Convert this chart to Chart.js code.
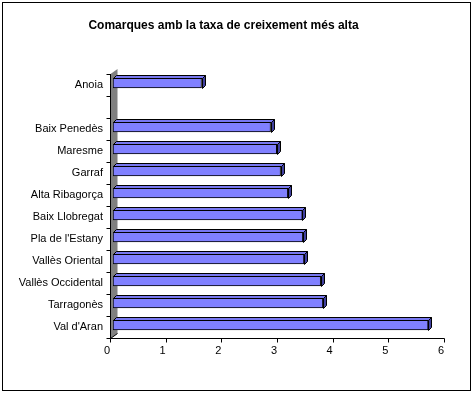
<!DOCTYPE html>
<html>
<head>
<meta charset="utf-8">
<script src="https://cdn.jsdelivr.net/npm/chart.js@4"></script>
<style>
  html, body { margin: 0; padding: 0; background: #fff; }
  #wrap { width: 473px; height: 393px; }
</style>
</head>
<body>
<div id="wrap"><canvas id="chart" width="473" height="393"></canvas></div>
<script>
// Data
const comarques = ['Anoia', '', 'Baix Penedès', 'Maresme', 'Garraf', 'Alta Ribagorça',
  'Baix Llobregat', "Pla de l'Estany", 'Vallès Oriental', 'Vallès Occidental',
  'Tarragonès', "Val d'Aran"];
const taxa = [1.59, null, 2.83, 2.94, 3.01, 3.14, 3.40, 3.41, 3.43, 3.73, 3.77, 5.66];
const xTicks = [0, 1, 2, 3, 4, 5, 6];

// 3D look
const DEPTH = 3;            // bar depth offset
const FRONT_DX = -3, FRONT_DY = 2;   // front plane relative to bar plane
const WALL_DX = 7, WALL_DY = -5;     // wall depth

const chart3d = {
  id: 'chart3d',
  beforeDraw(chart) {
    const { ctx } = chart;
    ctx.save();
    ctx.strokeStyle = '#000';
    ctx.lineWidth = 1;
    ctx.strokeRect(2.5, 2.5, 468, 388);
    ctx.restore();
  },
  beforeDatasetsDraw(chart) {
    const { ctx, chartArea, scales } = chart;
    const x0 = Math.round(scales.x.getPixelForValue(0) + FRONT_DX) + 0.5;
    const top = chartArea.top + FRONT_DY;
    const bottom = Math.round(chartArea.bottom + FRONT_DY) + 0.5;
    ctx.save();
    // gray wall
    ctx.fillStyle = '#808080';
    ctx.beginPath();
    ctx.moveTo(x0, top);
    ctx.lineTo(x0 + WALL_DX, top + WALL_DY);
    ctx.lineTo(x0 + WALL_DX, bottom + WALL_DY);
    ctx.lineTo(x0, bottom);
    ctx.closePath();
    ctx.fill();
    ctx.strokeStyle = '#000';
    ctx.lineWidth = 1;
    ctx.beginPath();
    ctx.moveTo(x0, bottom);
    ctx.lineTo(x0 + WALL_DX, bottom + WALL_DY);
    ctx.stroke();
    // y axis line + ticks at category boundaries
    ctx.beginPath();
    ctx.moveTo(x0, top);
    ctx.lineTo(x0, bottom);
    const n = comarques.length;
    const step = (chartArea.bottom - chartArea.top) / n;
    for (let i = 0; i <= n; i++) {
      const y = Math.round(chartArea.top + i * step + FRONT_DY) + 0.5;
      ctx.moveTo(x0 - 4, y);
      ctx.lineTo(x0, y);
    }
    // x axis line + ticks
    const xEnd = Math.round(scales.x.getPixelForValue(6) + FRONT_DX) + 0.5;
    ctx.moveTo(x0, bottom);
    ctx.lineTo(xEnd, bottom);
    xTicks.forEach(v => {
      const x = Math.round(scales.x.getPixelForValue(v) + FRONT_DX) + 0.5;
      ctx.moveTo(x, bottom);
      ctx.lineTo(x, bottom + 4);
    });
    ctx.stroke();
    ctx.restore();
  },
  afterDatasetsDraw(chart) {
    const { ctx } = chart;
    const meta = chart.getDatasetMeta(0);
    ctx.save();
    ctx.strokeStyle = '#000';
    ctx.lineWidth = 1;
    meta.data.forEach((bar, i) => {
      if (taxa[i] == null) return;
      const p = bar.getProps(['x', 'y', 'base', 'height'], true);
      const t = Math.round(p.y - p.height / 2) + 0.5;
      const b = Math.round(p.y + p.height / 2) + 0.5;
      const l = Math.round(p.base) + 0.5;
      const r = Math.round(p.x) + 0.5;
      // top face
      ctx.fillStyle = '#7878F0';
      ctx.beginPath();
      ctx.moveTo(l, t);
      ctx.lineTo(l + DEPTH, t - DEPTH);
      ctx.lineTo(r + DEPTH, t - DEPTH);
      ctx.lineTo(r, t);
      ctx.closePath();
      ctx.fill();
      ctx.stroke();
      // side face
      ctx.fillStyle = '#40409F';
      ctx.beginPath();
      ctx.moveTo(r, t);
      ctx.lineTo(r + DEPTH, t - DEPTH);
      ctx.lineTo(r + DEPTH, b - DEPTH);
      ctx.lineTo(r, b);
      ctx.closePath();
      ctx.fill();
      ctx.stroke();
    });
    ctx.restore();
  }
};

new Chart(document.getElementById('chart'), {
  type: 'bar',
  data: {
    labels: comarques,
    datasets: [{
      data: taxa,
      backgroundColor: '#8080FF',
      borderColor: '#000000',
      borderWidth: 1,
      borderSkipped: false,
      barThickness: 10
    }]
  },
  options: {
    indexAxis: 'y',
    responsive: false,
    animation: false,
    devicePixelRatio: 1,
    layout: { padding: { left: 0, right: 26, top: 18.8, bottom: 0 } },
    plugins: {
      legend: { display: false },
      tooltip: { enabled: false },
      title: {
        display: true,
        text: 'Comarques amb la taxa de creixement més alta',
        color: '#000',
        font: { family: 'Liberation Sans, Arial, sans-serif', size: 12, weight: 'bold' },
        padding: { top: 0, bottom: 38.8 }
      }
    },
    scales: {
      x: {
        min: 0,
        max: 6,
        afterBuildTicks: s => { s.ticks = xTicks.map(v => ({ value: v })); },
        afterFit: s => { s.height = 57; },
        grid: { display: false, drawTicks: false },
        border: { display: false },
        ticks: {
          color: '#000',
          padding: 8,
          labelOffset: -6,
          font: { family: 'Liberation Sans, Arial, sans-serif', size: 11 }
        }
      },
      y: {
        afterFit: s => { s.width = 113; },
        grid: { display: false, drawTicks: false },
        border: { display: false },
        ticks: {
          color: '#000',
          padding: 10,
          labelOffset: 2,
          autoSkip: false,
          font: { family: 'Liberation Sans, Arial, sans-serif', size: 11 }
        }
      }
    }
  },
  plugins: [chart3d]
});
</script>
</body>
</html>
